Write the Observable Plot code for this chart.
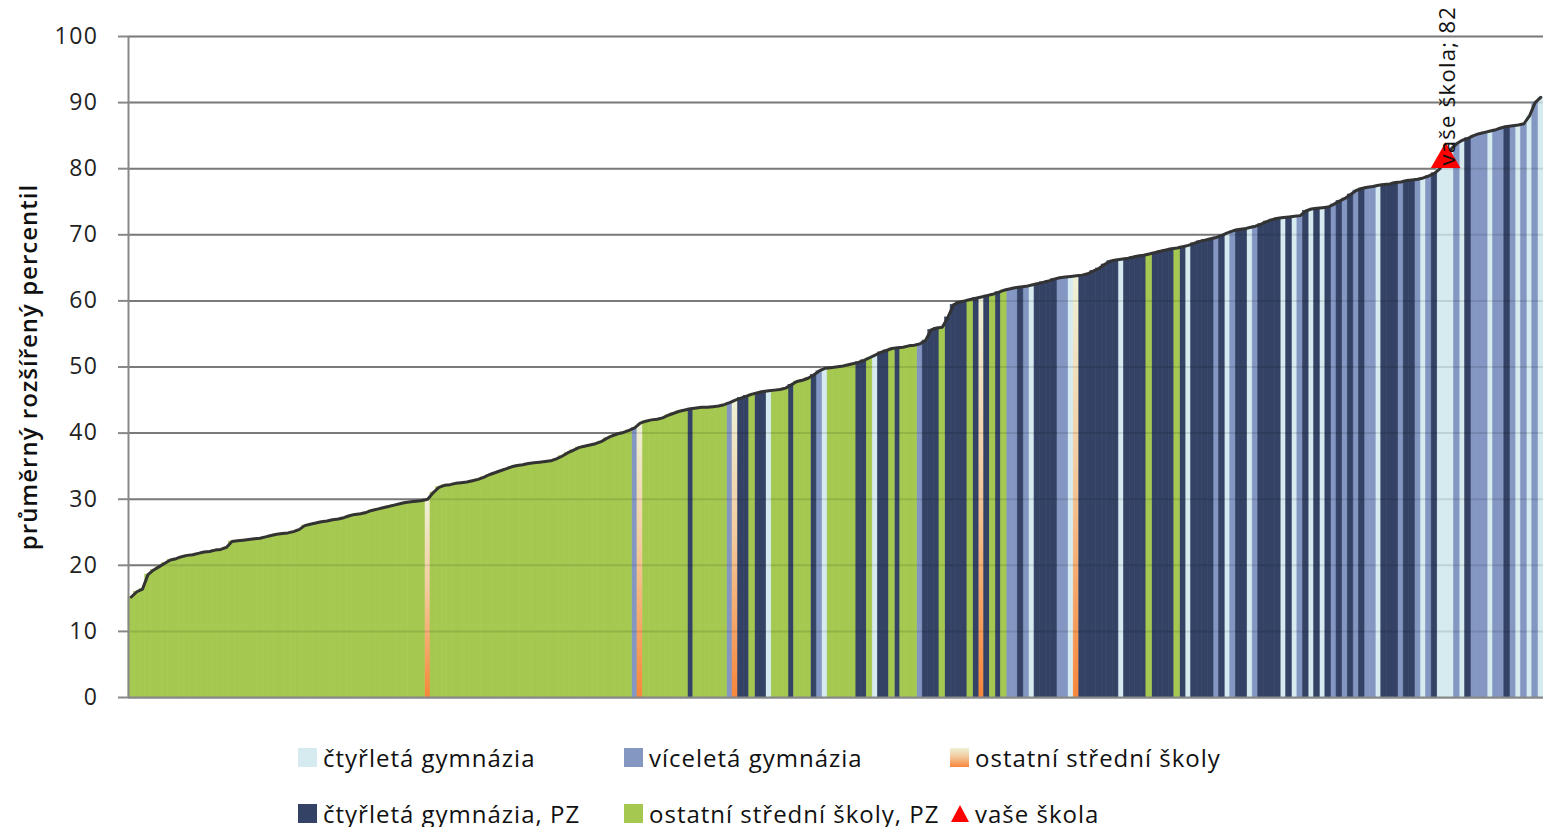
<!DOCTYPE html>
<html>
<head>
<meta charset="utf-8">
<script src="https://cdn.jsdelivr.net/npm/d3@7"></script>
<script src="https://cdn.jsdelivr.net/npm/@observablehq/plot@0.6"></script>
<style>
  body { margin: 0; background: #fff; }
  #chart svg { display: block; }
  #legend { position: relative; width: 1543px; height: 107px; font-family: "Open Sans", sans-serif; font-size: 24px; letter-spacing: 1px; color: #111; }
  .item { position: absolute; display: flex; align-items: center; white-space: nowrap; height: 24px; }
  .sw { width: 19px; height: 19px; margin-right: 6px; flex: none; }
  .tri { width: 0; height: 0; border-left: 9px solid transparent; border-right: 9px solid transparent; border-bottom: 17px solid #ff0000; margin-right: 6px; }
</style>
</head>
<body>
<div id="chart"></div>
<div id="legend"></div>
<script>
// ---- data ----
const values = [
  15.2,16.0,16.4,18.6,19.3,19.8,20.3,20.8,21.0,21.3,
  21.5,21.6,21.8,22.0,22.1,22.3,22.4,22.7,23.6,23.7,
  23.8,23.9,24.0,24.1,24.3,24.5,24.7,24.8,24.9,25.1,
  25.4,26.0,26.2,26.4,26.6,26.7,26.9,27.0,27.2,27.5,
  27.7,27.8,28.0,28.3,28.5,28.7,28.9,29.1,29.3,29.5,
  29.6,29.7,29.8,30.0,31.0,31.8,32.1,32.2,32.4,32.5,
  32.6,32.8,33.0,33.3,33.7,34.0,34.3,34.6,34.9,35.1,
  35.2,35.4,35.5,35.6,35.7,35.8,36.1,36.5,37.0,37.4,
  37.8,38.0,38.2,38.4,38.7,39.2,39.6,39.9,40.1,40.4,
  40.8,41.5,41.8,42.0,42.1,42.3,42.7,43.0,43.3,43.5,
  43.7,43.8,43.9,43.9,44.0,44.1,44.3,44.6,45.0,45.3,
  45.6,45.9,46.1,46.3,46.4,46.5,46.6,46.8,47.3,47.8,
  48.0,48.3,48.8,49.4,49.8,49.9,50.0,50.1,50.3,50.5,
  50.7,51.0,51.4,51.8,52.2,52.5,52.8,52.9,53.0,53.2,
  53.3,53.5,54.0,55.6,55.9,56.0,57.5,59.4,59.8,60.0,
  60.2,60.4,60.6,60.8,61.0,61.3,61.6,61.8,62.0,62.1,
  62.2,62.4,62.6,62.8,63.0,63.3,63.5,63.6,63.7,63.8,
  63.9,64.1,64.5,64.9,65.5,66.0,66.2,66.3,66.4,66.6,
  66.8,66.9,67.1,67.3,67.5,67.7,67.9,68.0,68.2,68.4,
  68.7,69.0,69.2,69.4,69.6,69.9,70.3,70.6,70.8,70.9,
  71.1,71.3,71.6,72.0,72.3,72.5,72.6,72.7,72.8,72.9,
  73.6,73.9,74.0,74.1,74.2,74.6,75.1,75.5,76.1,76.7,
  77.0,77.2,77.3,77.5,77.6,77.7,77.9,78.0,78.2,78.3,
  78.4,78.6,78.9,79.3,80.0,82.0,83.0,83.8,84.3,84.6,
  85.0,85.3,85.5,85.7,85.9,86.2,86.4,86.5,86.6,86.8,
  88.0,90.0,90.8
];

// A = čtyřletá gymnázia, B = víceletá gymnázia, C = ostatní střední školy,
// D = čtyřletá gymnázia, PZ, E = ostatní střední školy, PZ
const types = [
  "E","E","E","E","E","E","E","E","E","E",
  "E","E","E","E","E","E","E","E","E","E",
  "E","E","E","E","E","E","E","E","E","E",
  "E","E","E","E","E","E","E","E","E","E",
  "E","E","E","E","E","E","E","E","E","E",
  "E","E","E","C","E","E","E","E","E","E",
  "E","E","E","E","E","E","E","E","E","E",
  "E","E","E","E","E","E","E","E","E","E",
  "E","E","E","E","E","E","E","E","E","E",
  "B","C","E","E","E","E","E","E","E","E",
  "D","E","E","E","E","E","E","B","C","D",
  "D","E","D","D","A","E","E","E","D","E",
  "E","E","D","B","A","E","E","E","E","E",
  "D","D","E","A","D","D","E","D","E","E",
  "E","B","D","D","D","E","D","D","D","D",
  "E","D","C","D","E","D","E","B","B","D",
  "B","A","D","D","D","D","B","B","A","C",
  "D","D","D","D","D","D","D","A","D","D",
  "D","D","E","D","D","D","D","E","D","A",
  "D","D","D","D","B","D","A","B","D","D",
  "A","B","D","D","D","D","A","D","A","B",
  "D","A","D","A","D","B","D","B","D","B",
  "D","B","B","A","D","D","D","B","D","D",
  "B","A","B","D","A","A","A","B","A","D",
  "B","B","B","A","B","B","D","B","A","B",
  "A","B","A"
];

const categoryCodes = ["A", "B", "C", "D", "E"];
const categoryNames = ["čtyřletá gymnázia", "víceletá gymnázia", "ostatní střední školy", "čtyřletá gymnázia, PZ", "ostatní střední školy, PZ"];
const categoryColors = ["#d5ebf0", "#8497c3", "url(#gradC)", "#344265", "#a5c850"];
const schoolIndex = 235;
const schoolLabel = "vaše škola; 82";
const schoolLegend = "vaše škola";
const yTicks = [0, 10, 20, 30, 40, 50, 60, 70, 80, 90, 100];
const yTitle = "průměrný rozšířený percentil";

// ---- chart ----
const N = values.length;
const rows = values.map((v, i) => ({i, v, t: types[i]}));

const defs = () => {
  const d = d3.create("svg:defs");
  const g = d.append("linearGradient").attr("id", "gradC").attr("x1", 0).attr("y1", 0).attr("x2", 0).attr("y2", 1);
  g.append("stop").attr("offset", "0%").attr("stop-color", "#eef1d6");
  g.append("stop").attr("offset", "45%").attr("stop-color", "#f3cb9e");
  g.append("stop").attr("offset", "100%").attr("stop-color", "#f7863a");
  return d.node();
};

const barMarks = categoryCodes.map((c, k) =>
  Plot.rectY(rows.filter(r => r.t === c), {
    x1: r => r.i, x2: r => r.i + 1, y1: 0, y2: r => r.v,
    fill: categoryColors[k], stroke: categoryColors[k], strokeWidth: 0.6
  })
);

const chart = Plot.plot({
  width: 1543,
  height: 720,
  marginLeft: 128,
  marginRight: 0,
  marginTop: 36,
  marginBottom: 23,
  style: {fontFamily: "'Open Sans', sans-serif", fontSize: "23px", overflow: "visible", background: "#fff"},
  x: {domain: [0, N], axis: null},
  y: {domain: [0, 100], axis: null},
  marks: [
    defs,
    Plot.ruleY(yTicks, {stroke: "#888", strokeWidth: 2}),
    ...barMarks,
    Plot.ruleY(yTicks.slice(1), {stroke: "#000", strokeOpacity: 0.1, strokeWidth: 2}),
    Plot.ruleY([0], {stroke: "#888", strokeWidth: 2}),
    Plot.ruleX([0], {stroke: "#888", strokeWidth: 2}),
    Plot.axisY({ticks: yTicks, tickSize: 10, tickPadding: 20, stroke: "#888", strokeWidth: 2, fill: "#222", fontSize: 23, label: null}),
    Plot.text([yTitle], {frameAnchor: "left", rotate: -90, textAnchor: "middle", dx: -99, fontSize: 24, fontWeight: 600, fill: "#111", text: d => d}),
    Plot.lineY(rows, {x: r => r.i + 0.5, y: r => r.v, stroke: "#333", strokeWidth: 3}),
    Plot.dot([rows[schoolIndex]], {x: r => r.i + 0.5, y: r => r.v, symbol: "triangle", r: 11, fill: "#ff0000", dy: 4}),
    Plot.text([rows[schoolIndex]], {x: r => r.i + 0.5, y: r => r.v, text: () => schoolLabel, rotate: -90, textAnchor: "start", lineAnchor: "middle", dx: 2, dy: 10, fontSize: 22, fill: "#111"})
  ]
});
document.getElementById("chart").appendChild(chart);

// letter spacing tweaks to match the stretched lettering of the original
d3.select(chart).selectAll("text").each(function () {
  const t = this.textContent;
  if (t === yTitle) d3.select(this).style("letter-spacing", "1px");
  else if (t === schoolLabel) d3.select(this).style("letter-spacing", "1.3px");
  else if (yTicks.map(String).includes(t)) d3.select(this).style("letter-spacing", "1.5px");
});

// ---- legend ----
const legend = d3.select("#legend");
const legendSlots = [
  {k: 0, left: 298, top: 25}, {k: 1, left: 624, top: 25}, {k: 2, left: 950, top: 25},
  {k: 3, left: 298, top: 81}, {k: 4, left: 624, top: 81}
];
legendSlots.forEach(s => {
  const it = legend.append("div").attr("class", "item").style("left", s.left + "px").style("top", s.top + "px");
  const sw = it.append("div").attr("class", "sw");
  if (categoryCodes[s.k] === "C") sw.style("background", "linear-gradient(#eef1d6, #f3cb9e 45%, #f7863a)");
  else sw.style("background", categoryColors[s.k]);
  it.append("span").text(categoryNames[s.k]);
});
const sch = legend.append("div").attr("class", "item").style("left", "951px").style("top", "81px");
sch.append("div").attr("class", "tri");
sch.append("span").text(schoolLegend);
</script>
</body>
</html>
